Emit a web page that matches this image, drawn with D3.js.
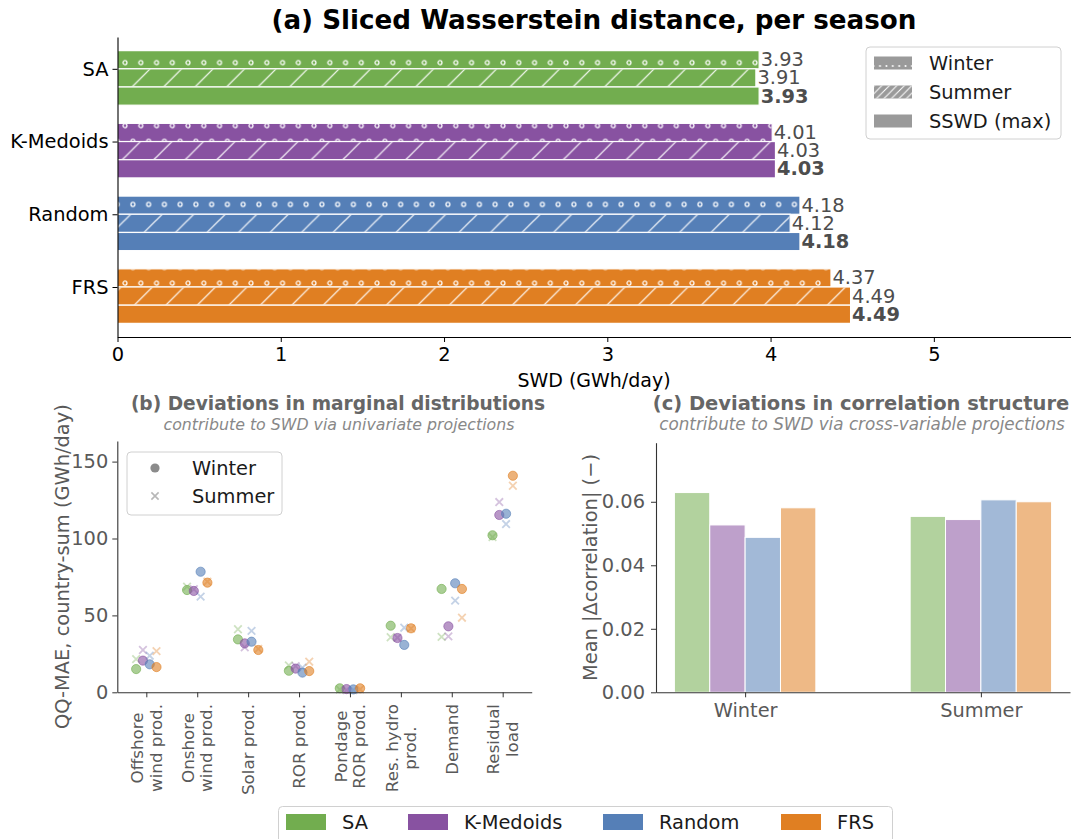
<!DOCTYPE html>
<html>
<head>
<meta charset="utf-8">
<script src="https://cdn.jsdelivr.net/npm/d3@7"></script>
<style>
  body { margin: 0; background: #fff; }
  svg { display: block; font-family: "DejaVu Sans", sans-serif; }
</style>
</head>
<body>
<svg id="chart" width="1080" height="839"></svg>
<script>
// ---- data ----
const methods = ["SA", "K-Medoids", "Random", "FRS"];
const methodColors = ["#72ad4f", "#8852a1", "#557fb7", "#e07f22"];

// (a) sliced Wasserstein distance per season (GWh/day)
const swdWinter = [3.93, 4.01, 4.18, 4.37];
const swdSummer = [3.91, 4.03, 4.12, 4.49];
const swdMax    = [3.93, 4.03, 4.18, 4.49];
const swdTicks  = [0, 1, 2, 3, 4, 5];

// (b) QQ-MAE per variable, country-sum (GWh/day)
const variables = ["Offshore\nwind prod.", "Onshore\nwind prod.", "Solar prod.", "ROR prod.",
                   "Pondage\nROR prod.", "Res. hydro\nprod.", "Demand", "Residual\nload"];
const maeWinterSA     = [15.1, 66.5, 34.4, 14.0, 2.6, 43.3, 67.2, 102.1];
const maeWinterKM     = [20.6, 65.9, 31.8, 15.4, 2.1, 35.3, 42.9, 115.3];
const maeWinterRandom = [18.2, 78.4, 32.9, 12.8, 1.9, 30.8, 70.9, 116.1];
const maeWinterFRS    = [16.4, 71.3, 27.5, 13.8, 2.6, 41.6, 67.2, 140.8];
const maeSummerSA     = [21.6, 68.7, 41.0, 17.5, 1.8, 35.8, 36.0, 101.0];
const maeSummerKM     = [27.5, 67.0, 29.3, 17.0, 1.5, 35.5, 36.4, 123.7];
const maeSummerRandom = [23.8, 62.2, 39.9, 16.0, 1.5, 42.0, 59.6, 109.4];
const maeSummerFRS    = [26.8, 72.0, 28.2, 19.9, 2.0, 41.5, 48.5, 134.3];
const maeTicks = [0, 50, 100, 150];

// (c) mean absolute deviation of correlation
const corrSeasons = ["Winter", "Summer"];
const corrWinter = [0.0629, 0.0527, 0.0488, 0.0581];
const corrSummer = [0.0554, 0.0544, 0.0606, 0.0600];
const corrTicks = [0, 0.02, 0.04, 0.06];

const maeWinter = [maeWinterSA, maeWinterKM, maeWinterRandom, maeWinterFRS];
const maeSummer = [maeSummerSA, maeSummerKM, maeSummerRandom, maeSummerFRS];

// ---- setup ----
const svg = d3.select("#chart");
const TICK = 19.4;
const GREY = "#595959";
const defs = svg.append("defs");

// hatch patterns (white strokes over the bar colour)
const dots = defs.append("pattern").attr("id", "hatch-dots")
  .attr("patternUnits", "userSpaceOnUse").attr("width", 15.75).attr("height", 31.5)
  .attr("patternTransform", "translate(121.1,54.8)");
[[3.9, 7.875], [11.8, 23.625]].forEach(([cx, cy]) =>
  dots.append("circle").attr("cx", cx).attr("cy", cy).attr("r", 2.0)
    .attr("fill", "none").attr("stroke", "#fff").attr("stroke-width", 1.2));

const diag = defs.append("pattern").attr("id", "hatch-diag")
  .attr("patternUnits", "userSpaceOnUse").attr("width", 31.5).attr("height", 31.5)
  .attr("patternTransform", "translate(30,0)");
[[-2, 2, 2, -2], [0, 31.5, 31.5, 0], [29.5, 33.5, 33.5, 29.5]].forEach(([x1, y1, x2, y2]) =>
  diag.append("line").attr("x1", x1).attr("y1", y1).attr("x2", x2).attr("y2", y2)
    .attr("stroke", "#fff").attr("stroke-width", 1.2));

// denser hatches for the legend keys
const ldots = defs.append("pattern").attr("id", "leg-dots")
  .attr("patternUnits", "userSpaceOnUse").attr("width", 6.4).attr("height", 12);
ldots.append("circle").attr("cx", 3.2).attr("cy", 6).attr("r", 1).attr("fill", "#fff");
const ldiag = defs.append("pattern").attr("id", "leg-diag")
  .attr("patternUnits", "userSpaceOnUse").attr("width", 7.5).attr("height", 7.5);
[[-1, 1, 1, -1], [0, 7.5, 7.5, 0], [6.5, 8.5, 8.5, 6.5]].forEach(([x1, y1, x2, y2]) =>
  ldiag.append("line").attr("x1", x1).attr("y1", y1).attr("x2", x2).attr("y2", y2)
    .attr("stroke", "#fff").attr("stroke-width", 1));

function styleAxis(g, color, spine) {
  g.selectAll("text").attr("font-size", TICK).attr("fill", color)
    .attr("font-family", "DejaVu Sans, sans-serif");
  g.selectAll("line").attr("stroke", spine).attr("stroke-width", 1);
  g.select(".domain").attr("stroke", spine).attr("stroke-width", 1.1);
}

// ================= (a) SWD per season =================
const xA = d3.scaleLinear().domain([0, 5.837]).range([117.5, 1070.5]);
const yA = d3.scaleLinear().domain([-0.4375, 3.6875]).range([37, 337]);
const bandA = 0.25;

const seasonsA = [
  { vals: swdWinter, off: -0.25, hatch: "url(#hatch-dots)", bold: false },
  { vals: swdSummer, off: 0,     hatch: "url(#hatch-diag)", bold: false },
  { vals: swdMax,    off: 0.25,  hatch: null,               bold: true }
];

const gA = svg.append("g");
methods.forEach((m, i) => {
  seasonsA.forEach(s => {
    const v = s.vals[i];
    const y0 = yA(i + s.off), y1 = yA(i + s.off + bandA);
    gA.append("rect").attr("x", xA(0)).attr("y", y0)
      .attr("width", xA(v) - xA(0)).attr("height", y1 - y0)
      .attr("fill", methodColors[i]).attr("stroke", "#fff").attr("stroke-width", 1.2);
    if (s.hatch) {
      gA.append("rect").attr("x", xA(0) + 0.6).attr("y", y0 + 0.6)
        .attr("width", xA(v) - xA(0) - 1.2).attr("height", y1 - y0 - 1.2)
        .attr("fill", s.hatch);
    }
    gA.append("text").attr("x", xA(v) + 1.5).attr("y", (y0 + y1) / 2)
      .attr("dominant-baseline", "central")
      .attr("font-size", TICK).attr("fill", "#4d4d4d")
      .attr("font-weight", s.bold ? "bold" : "normal")
      .text(v.toFixed(2));
  });
});

const axAx = svg.append("g").attr("transform", `translate(0,${yA.range()[1]})`)
  .call(d3.axisBottom(xA).tickValues(swdTicks).tickFormat(d3.format("d"))
    .tickSize(5).tickSizeOuter(0).tickPadding(5));
styleAxis(axAx, "#000", "#000");
const axAy = svg.append("g").attr("transform", `translate(${xA(0)},0)`)
  .call(d3.axisLeft(yA).tickValues(d3.range(methods.length)).tickFormat(i => methods[i])
    .tickSize(5).tickSizeOuter(0).tickPadding(4));
styleAxis(axAy, "#000", "#000");

svg.append("text").attr("x", (xA.range()[0] + xA.range()[1]) / 2).attr("y", 387)
  .attr("text-anchor", "middle").attr("font-size", 19).attr("fill", "#000")
  .text("SWD (GWh/day)");
svg.append("text").attr("x", 594).attr("y", 29)
  .attr("text-anchor", "middle").attr("font-size", 26.2).attr("font-weight", "bold")
  .attr("fill", "#000").text("(a) Sliced Wasserstein distance, per season");

// legend (a)
const legA = svg.append("g");
legA.append("rect").attr("x", 866).attr("y", 47).attr("width", 195).attr("height", 92)
  .attr("rx", 4).attr("fill", "#fff").attr("fill-opacity", 0.8)
  .attr("stroke", "#d0d0d0").attr("stroke-width", 1);
[["Winter", "url(#leg-dots)"], ["Summer", "url(#leg-diag)"], ["SSWD (max)", null]].forEach(([lab, h], k) => {
  const cy = 63 + k * 29;
  legA.append("rect").attr("x", 874).attr("y", cy - 6.5).attr("width", 38).attr("height", 13)
    .attr("fill", "#9a9a9a");
  if (h) legA.append("rect").attr("x", 874).attr("y", cy - 6.5).attr("width", 38).attr("height", 13)
    .attr("fill", h);
  legA.append("text").attr("x", 929).attr("y", cy).attr("dominant-baseline", "central")
    .attr("font-size", TICK).attr("fill", "#1a1a1a").text(lab);
});

// ================= (b) marginal deviations =================
const xB = d3.scaleLinear().domain([-0.57, 7.57]).range([117.3, 531.7]);
const yB = d3.scaleLinear().domain([0, 163.4]).range([692.3, 441]);
const jitter = [-0.2, -0.0667, 0.0667, 0.2];

const gB = svg.append("g");
methods.forEach((m, j) => {
  maeWinter[j].forEach((v, i) => {
    gB.append("circle").attr("cx", xB(i + jitter[j])).attr("cy", yB(v)).attr("r", 4.6)
      .attr("fill", methodColors[j]).attr("fill-opacity", 0.6)
      .attr("stroke", methodColors[j]).attr("stroke-opacity", 0.6).attr("stroke-width", 1);
  });
  maeSummer[j].forEach((v, i) => {
    const cx = xB(i + jitter[j]), cy = yB(v), s = 3.8;
    gB.append("path").attr("d", `M${cx - s},${cy - s}L${cx + s},${cy + s}M${cx - s},${cy + s}L${cx + s},${cy - s}`)
      .attr("stroke", methodColors[j]).attr("stroke-opacity", 0.35).attr("stroke-width", 1.8)
      .attr("fill", "none");
  });
});

const axBy = svg.append("g").attr("transform", `translate(${xB.range()[0]},0)`)
  .call(d3.axisLeft(yB).tickValues(maeTicks).tickSize(5).tickSizeOuter(0).tickPadding(4));
styleAxis(axBy, GREY, "#333");
const axBx = svg.append("g").attr("transform", `translate(0,${yB.range()[0]})`)
  .call(d3.axisBottom(xB).tickValues(d3.range(variables.length)).tickFormat("")
    .tickSize(5).tickSizeOuter(0));
styleAxis(axBx, GREY, "#333");

// rotated multi-line category labels
variables.forEach((lab, i) => {
  const lines = lab.split("\n");
  const g = svg.append("g").attr("transform", `translate(${xB(i)},704) rotate(-90)`);
  const texts = lines.map((ln, k) => g.append("text")
    .attr("y", (k - (lines.length - 1) / 2) * 18.5)
    .attr("text-anchor", "middle").attr("dominant-baseline", "central")
    .attr("font-size", 16.7).attr("fill", GREY).text(ln));
  const maxLen = d3.max(texts, t => t.node().getComputedTextLength());
  texts.forEach(t => t.attr("x", -maxLen / 2));
});

svg.append("text").attr("transform", `translate(62,${(yB.range()[0] + yB.range()[1]) / 2}) rotate(-90)`)
  .attr("text-anchor", "middle").attr("dominant-baseline", "central")
  .attr("font-size", TICK).attr("fill", GREY).text("QQ-MAE, country-sum (GWh/day)");
svg.append("text").attr("x", 338).attr("y", 410).attr("text-anchor", "middle")
  .attr("font-size", 18.6).attr("font-weight", "bold").attr("fill", "#666")
  .text("(b) Deviations in marginal distributions");
svg.append("text").attr("x", 339).attr("y", 430).attr("text-anchor", "middle")
  .attr("font-size", 15.8).attr("font-style", "italic").attr("fill", "#888")
  .text("contribute to SWD via univariate projections");

// legend (b)
const legB = svg.append("g");
legB.append("rect").attr("x", 127).attr("y", 452).attr("width", 155).attr("height", 63)
  .attr("rx", 4).attr("fill", "#fff").attr("fill-opacity", 0.8)
  .attr("stroke", "#d0d0d0").attr("stroke-width", 1);
legB.append("circle").attr("cx", 155).attr("cy", 468).attr("r", 4.6)
  .attr("fill", "#777").attr("fill-opacity", 0.85);
legB.append("path").attr("d", "M151.4,492.4L158.6,499.6M151.4,499.6L158.6,492.4")
  .attr("stroke", "#999").attr("stroke-opacity", 0.7).attr("stroke-width", 1.6);
[["Winter", 468], ["Summer", 496]].forEach(([lab, cy]) =>
  legB.append("text").attr("x", 192).attr("y", cy).attr("dominant-baseline", "central")
    .attr("font-size", TICK).attr("fill", "#1a1a1a").text(lab));

// ================= (c) correlation deviations =================
const xC = d3.scaleLinear().domain([-0.378, 1.378]).range([656, 1070]);
const yC = d3.scaleLinear().domain([0, 0.0786]).range([692.3, 442.7]);
const barW = 0.15;
const corrBySeason = [corrWinter, corrSummer];

const gC = svg.append("g");
corrSeasons.forEach((s, g) => {
  corrBySeason[g].forEach((v, j) => {
    const x0 = g - 2 * barW + j * barW;
    gC.append("rect").attr("x", xC(x0)).attr("y", yC(v))
      .attr("width", xC(x0 + barW) - xC(x0)).attr("height", yC(0) - yC(v))
      .attr("fill", methodColors[j]).attr("fill-opacity", 0.55)
      .attr("stroke", "#fff").attr("stroke-width", 1);
  });
});

const axCy = svg.append("g").attr("transform", `translate(${xC.range()[0]},0)`)
  .call(d3.axisLeft(yC).tickValues(corrTicks).tickFormat(d3.format(".2f"))
    .tickSize(5).tickSizeOuter(0).tickPadding(6));
styleAxis(axCy, GREY, "#333");
const axCx = svg.append("g").attr("transform", `translate(0,${yC.range()[0]})`)
  .call(d3.axisBottom(xC).tickValues([0, 1]).tickFormat(i => corrSeasons[i])
    .tickSize(5).tickSizeOuter(0).tickPadding(6));
styleAxis(axCx, GREY, "#333");

svg.append("text").attr("transform", `translate(590,${(yC.range()[0] + yC.range()[1]) / 2}) rotate(-90)`)
  .attr("text-anchor", "middle").attr("dominant-baseline", "central")
  .attr("font-size", TICK).attr("fill", GREY).text("Mean |Δcorrelation| (−)");
svg.append("text").attr("x", 861).attr("y", 410).attr("text-anchor", "middle")
  .attr("font-size", 19.5).attr("font-weight", "bold").attr("fill", "#666")
  .text("(c) Deviations in correlation structure");
svg.append("text").attr("x", 862).attr("y", 430).attr("text-anchor", "middle")
  .attr("font-size", 16.8).attr("font-style", "italic").attr("fill", "#888")
  .text("contribute to SWD via cross-variable projections");

// ================= shared method legend =================
const legM = svg.append("g");
legM.append("rect").attr("x", 278.5).attr("y", 806.5).attr("width", 614).attr("height", 45)
  .attr("rx", 4).attr("fill", "#fff").attr("stroke", "#d0d0d0").attr("stroke-width", 1);
const legX = [286, 408, 603, 781];
methods.forEach((m, j) => {
  legM.append("rect").attr("x", legX[j]).attr("y", 814).attr("width", 40).attr("height", 16)
    .attr("fill", methodColors[j]);
  legM.append("text").attr("x", legX[j] + 56).attr("y", 822).attr("dominant-baseline", "central")
    .attr("font-size", TICK).attr("fill", "#1a1a1a").text(m);
});
</script>
</body>
</html>
